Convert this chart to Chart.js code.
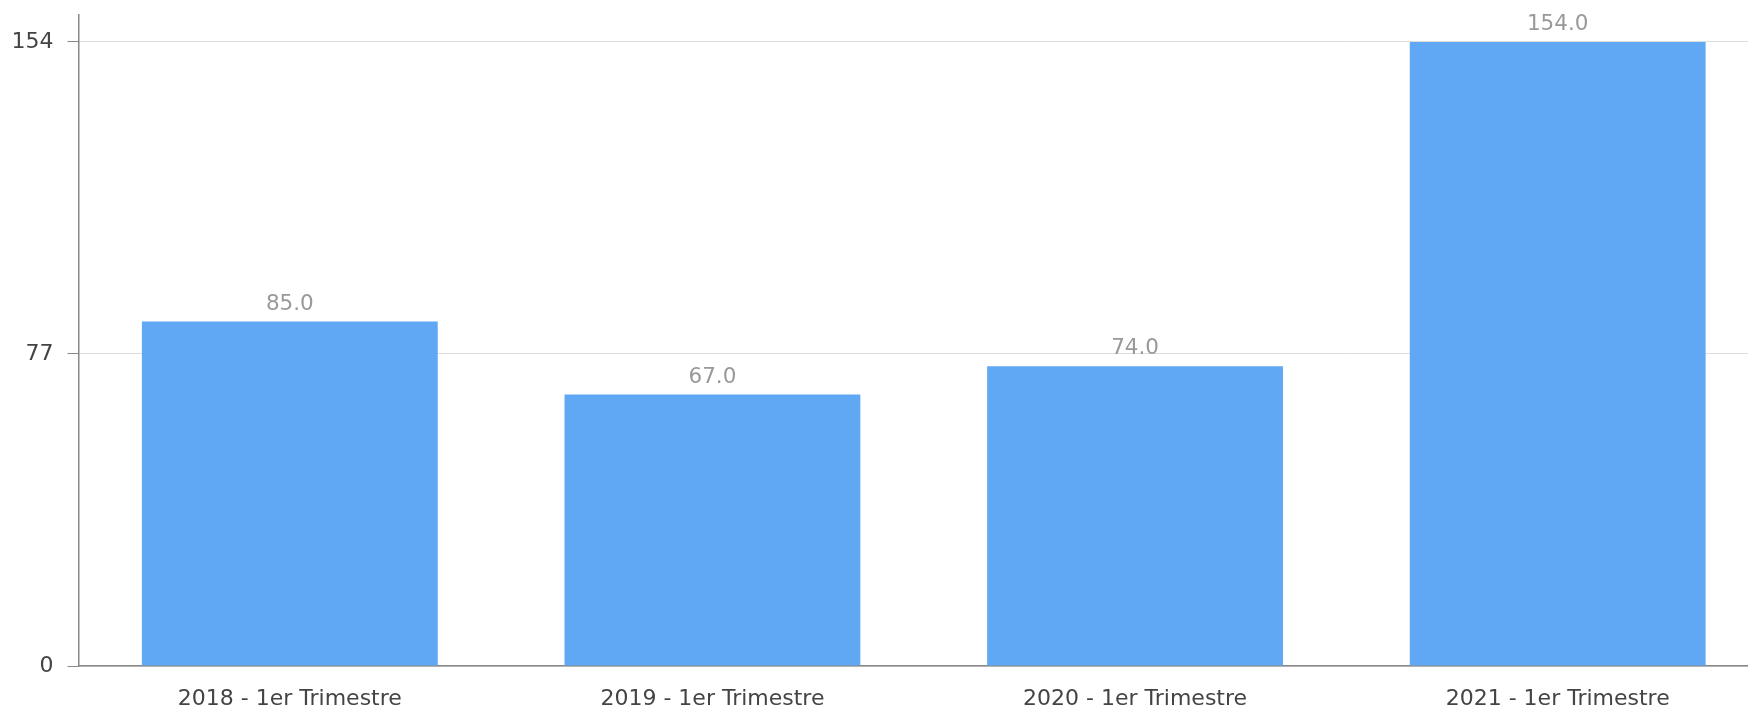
<!DOCTYPE html>
<html>
<head>
<meta charset="utf-8">
<script src="https://cdn.jsdelivr.net/npm/chart.js@4"></script>
<style>
    html, body { margin: 0; padding: 0; background: #fff; overflow: hidden; }
</style>
</head>
<body>
<canvas id="trimChart" width="1769" height="710"></canvas>
<script>
// Chart data
const categories = ['2018 - 1er Trimestre', '2019 - 1er Trimestre', '2020 - 1er Trimestre', '2021 - 1er Trimestre'];
const values = [85, 67, 74, 154];
const yTicks = [0, 77, 154];

const barColor = '#60a8f3';
const fontFamily = '"DejaVu Sans", sans-serif';

// Value labels above each bar
const valueLabels = {
    id: 'valueLabels',
    afterDatasetsDraw(chart) {
        const ctx = chart.ctx;
        const meta = chart.getDatasetMeta(0);
        ctx.save();
        ctx.font = '21.5px ' + fontFamily;
        ctx.fillStyle = '#999';
        ctx.textAlign = 'center';
        ctx.textBaseline = 'alphabetic';
        meta.data.forEach((bar, i) => {
            ctx.fillText(values[i].toFixed(1), bar.x, bar.y - 12);
        });
        ctx.restore();
    }
};

const ctx = document.getElementById('trimChart').getContext('2d');
const chart = new Chart(ctx, {
    type: 'bar',
    data: {
        labels: categories,
        datasets: [{
            data: values,
            backgroundColor: barColor,
            borderWidth: 0,
            barPercentage: 0.7,
            categoryPercentage: 1.0
        }]
    },
    options: {
        responsive: false,
        devicePixelRatio: 1,
        animation: false,
        layout: {
            padding: { top: 15, left: 14, right: 0, bottom: 0 }
        },
        plugins: {
            legend: { display: false },
            tooltip: { enabled: false }
        },
        scales: {
            x: {
                afterFit(axis) { axis.height = 44; },
                grid: { display: false, drawTicks: false },
                border: { display: true, color: '#888', width: 1.5 },
                ticks: {
                    color: '#444',
                    padding: 20,
                    maxRotation: 0,
                    font: { family: fontFamily, size: 22 }
                }
            },
            y: {
                min: 0,
                max: 160.66,
                // fixed axis width, no extra label padding at the top
                afterFit(axis) {
                    axis.width = 64.5;
                    axis.paddingTop = 0;
                    axis.paddingBottom = 0;
                },
                afterBuildTicks(axis) {
                    axis.ticks = yTicks.map(v => ({ value: v }));
                },
                grid: {
                    color: '#ddd',
                    lineWidth: 1,
                    tickColor: '#888',
                    tickLength: 11
                },
                border: { display: true, color: '#888', width: 1.5 },
                ticks: {
                    color: '#444',
                    padding: 14,
                    font: { family: fontFamily, size: 22 }
                }
            }
        }
    },
    plugins: [valueLabels]
});
</script>
</body>
</html>
